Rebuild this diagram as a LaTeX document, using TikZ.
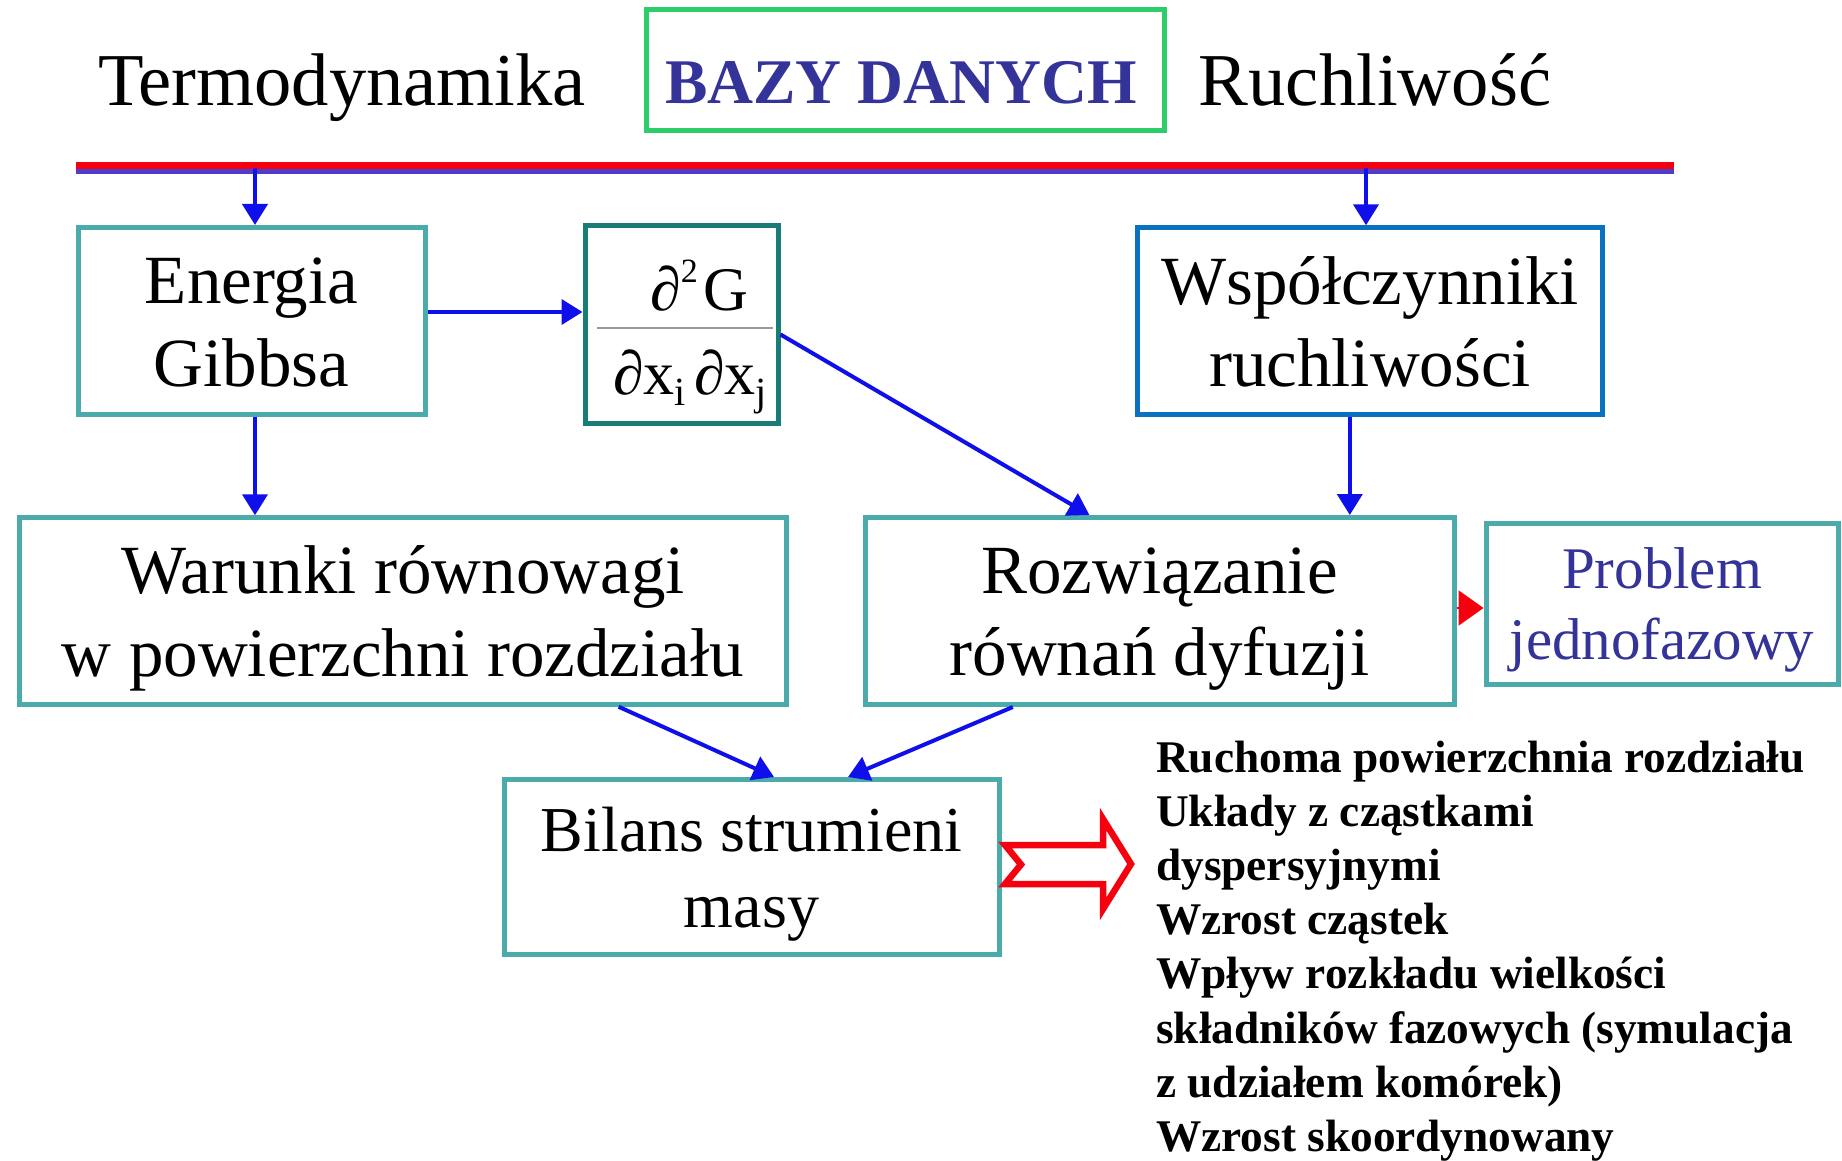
\documentclass[tikz,border=0pt]{standalone}
\usepackage{fontspec}
\setmainfont{Liberation Serif}
\usetikzlibrary{arrows.meta,calc}
\definecolor{tealb}{RGB}{75,170,170}
\definecolor{darkteal}{RGB}{25,125,118}
\definecolor{wblue}{RGB}{10,112,192}
\definecolor{gbox}{RGB}{45,205,105}
\definecolor{navy}{RGB}{51,51,153}
\definecolor{arrblue}{RGB}{15,15,235}
\definecolor{lineblue}{RGB}{80,60,200}
\definecolor{redl}{RGB}{245,0,15}
\begin{document}
\begin{tikzpicture}[x=1pt,y=-1pt,
  tbox/.style={draw=tealb,line width=5pt,inner sep=0pt},
  arr/.style={draw=arrblue,line width=4pt,-{Triangle[length=21pt,width=25pt]}},
  big/.style={anchor=base,inner sep=0pt,font=\fontsize{69}{69}\selectfont},
  prb/.style={anchor=base,inner sep=0pt,font=\fontsize{59}{59}\selectfont,text=navy},
  bil/.style={anchor=base,inner sep=0pt,font=\fontsize{64}{64}\selectfont},
  ttl/.style={anchor=base,inner sep=0pt,font=\fontsize{74.6}{75}\selectfont},
  frc/.style={anchor=base,inner sep=0pt,font=\fontsize{62}{62}\selectfont},
  itm/.style={anchor=base west,inner sep=0pt,font=\fontsize{45.3}{45.3}\selectfont\bfseries},
]
\useasboundingbox[fill=white] (0,0) rectangle (1842,1161);

% titles
\node[ttl] (termo) at (342,106) {Termodynamika};
\node[draw=gbox,line width=5pt,minimum width=518pt,minimum height=121pt,inner sep=0pt] (bazy) at (905,70) {};
\node[anchor=base,inner sep=0pt,font=\fontsize{63.6}{64}\selectfont\bfseries,text=navy] (bazyt) at (901,104) {BAZY DANYCH};
\node[ttl] (ruch) at (1375,106) {Ruchliwość};

% double bar
\coordinate (L1) at (76,168);
\coordinate (L2) at (1674,168);
\draw[lineblue,line width=4.5pt] ($(L1)+(0,3.5)$) -- ($(L2)+(0,3.5)$);
\draw[redl,line width=7.6pt] ($(L1)+(0,-2.5)$) -- ($(L2)+(0,-2.5)$);

% boxes
\node[tbox,minimum width=347pt,minimum height=187pt] (energia) at (251.5,321) {};
\node[tbox,draw=darkteal,minimum width=193pt,minimum height=197pt] (frac) at (681.5,324.5) {};
\node[tbox,draw=wblue,minimum width=465pt,minimum height=187pt] (wsp) at (1370,321.3) {};
\node[tbox,minimum width=767pt,minimum height=186.5pt] (warunki) at (402.5,611) {};
\node[tbox,minimum width=589pt,minimum height=187pt] (rozw) at (1159.5,611) {};
\node[tbox,minimum width=352pt,minimum height=160.5pt] (prob) at (1662,603.75) {};
\node[tbox,minimum width=495pt,minimum height=175pt] (bilans) at (751.5,867) {};

% box texts
\node[big] (t1) at (251.5,303.3) {Energia};
\node[big] (t2) at (251.5,386.7) {Gibbsa};
\node[big] (t3) at (1370,304) {Współczynniki};
\node[big] (t4) at (1370,386.7) {ruchliwości};
\node[big] (t5) at (403,593) {Warunki równowagi};
\node[big] (t6) at (403,676) {w powierzchni rozdziału};
\node[big] (t7) at (1159.5,593) {Rozwiązanie};
\node[big] (t8) at (1159.5,675) {równań dyfuzji};
\node[prb] (t9) at (1662,588.5) {Problem};
\node[prb] (t10) at (1662,659) {jednofazowy};
\node[bil] (t11) at (751.5,851) {Bilans strumieni};
\node[bil] (t12) at (751.5,927) {masy};

% fraction
\node[frc] (num) at (699.5,310) {∂\raisebox{28pt}{\fontsize{34}{34}\selectfont 2}\hspace{6pt}G};
\draw[black!40,line width=2.5pt] ($(frac.west)+(14.5,3.5)$) -- ($(frac.east)+(-7.5,3.5)$);
\node[frc] (den) at (690,394) {∂x\raisebox{-11pt}{\fontsize{40}{40}\selectfont i}\hspace{8pt}∂x\raisebox{-11pt}{\fontsize{40}{40}\selectfont j}};

% connectors
\coordinate (a1) at (255,168);
\coordinate (a2) at (1366,168);
\draw[arr] (a1) -- (a1 |- energia.north);
\draw[arr] (a2) -- (a2 |- wsp.north);
\draw[arr] ([yshift=9pt]energia.east) -- ([yshift=9pt]energia.east -| frac.west);
\draw[arr] ([yshift=-10pt]frac.east) -- ($(rozw.north west)!0.382!(rozw.north east)$);
\coordinate (w1) at ($(wsp.south west)!0.457!(wsp.south east)$);
\draw[arr] (w1) -- (w1 |- rozw.north);
\draw[arr] (a1 |- energia.south) -- (a1 |- warunki.north);
\draw[arr] ($(warunki.south west)!0.78!(warunki.south east)$) -- ($(bilans.north west)!0.545!(bilans.north east)$);
\draw[arr] ($(rozw.south west)!0.253!(rozw.south east)$) -- ($(bilans.north west)!0.693!(bilans.north east)$);
\draw[redl,line width=2pt,-{Triangle[length=25pt,width=35pt]}] ([yshift=3pt]rozw.east) -- ([yshift=3pt]rozw.east -| prob.west);

% hollow red arrow
\draw[redl,line width=6.5pt,line join=miter,fill=white]
  ($(bilans.east)+(3.5,-22)$) -- ($(bilans.east)+(101.5,-22)$) -- ($(bilans.east)+(101.5,-48)$)
  -- ($(bilans.east)+(129.5,-3)$) -- ($(bilans.east)+(101.5,42)$) -- ($(bilans.east)+(101.5,17)$)
  -- ($(bilans.east)+(3.5,17)$) -- ($(bilans.east)+(19.5,-2.5)$) -- cycle;

% list
\node[itm] (l1) at (1156,772) {Ruchoma powierzchnia rozdziału};
\node[itm] (l2) at (1156,826) {Układy z cząstkami};
\node[itm] (l3) at (1156,880) {dyspersyjnymi};
\node[itm] (l4) at (1156,934) {Wzrost cząstek};
\node[itm] (l5) at (1156,988) {Wpływ rozkładu wielkości};
\node[itm] (l6) at (1156,1043) {składników fazowych (symulacja};
\node[itm] (l7) at (1156,1097) {z udziałem komórek)};
\node[itm] (l8) at (1156,1151) {Wzrost skoordynowany};
\end{tikzpicture}
\end{document}
